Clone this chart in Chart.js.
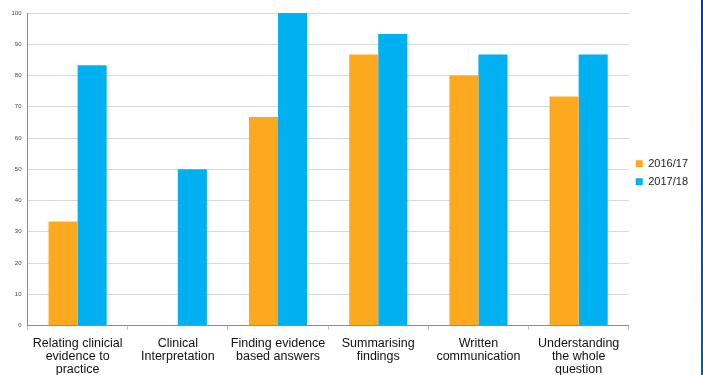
<!DOCTYPE html>
<html>
<head>
<meta charset="utf-8">
<script src="https://cdn.jsdelivr.net/npm/chart.js@4"></script>
<style>
  html, body { margin: 0; padding: 0; background: #fff; }
  #wrap { position: relative; width: 703px; height: 375px; overflow: hidden; }
  #edge { position: absolute; left: 701px; top: 0; width: 2px; height: 375px;
          background: linear-gradient(#0a2fd6, #0b5fa0); }
</style>
</head>
<body>
<div id="wrap">
  <canvas id="c" width="703" height="375"></canvas>
  <div id="edge"></div>
</div>
<script>
const categories = [
  ["Relating clinicial", "evidence to", "practice"],
  ["Clinical", "Interpretation"],
  ["Finding evidence", "based answers"],
  ["Summarising", "findings"],
  ["Written", "communication"],
  ["Understanding", "the whole", "question"]
];
const year2016 = [33.3, 0, 66.7, 86.7, 80, 73.3];
const year2017 = [83.3, 50, 100, 93.3, 86.7, 86.7];
const seriesNames = ["2016/17", "2017/18"];

new Chart(document.getElementById("c"), {
  type: "bar",
  data: {
    labels: categories,
    datasets: [
      { label: seriesNames[0], data: year2016, backgroundColor: "#fda91f", borderWidth: 0 },
      { label: seriesNames[1], data: year2017, backgroundColor: "#00b0f0", borderWidth: 0 }
    ]
  },
  options: {
    responsive: false,
    animation: false,
    events: [],
    datasets: { bar: { categoryPercentage: 0.58, barPercentage: 1.0 } },
    layout: { padding: { top: 13, left: 5.5, right: 5, bottom: 0 } },
    plugins: {
      tooltip: { enabled: false },
      legend: {
        position: "right",
        align: "center",
        fullSize: false,
        title: { display: true, text: " ", padding: 0, font: { size: 6 } },
        labels: {
          boxWidth: 7, boxHeight: 7, padding: 7,
          color: "#222",
          font: { family: "'Liberation Sans', Arial, sans-serif", size: 11 }
        }
      }
    },
    scales: {
      x: {
        // keep the category axis band a fixed height below the plot
        afterFit(scale) { scale.height = 49.5; },
        grid: { drawOnChartArea: false, drawTicks: true, tickLength: 4, color: "#bfbfbf" },
        border: { color: "#8c8c8c" },
        ticks: {
          color: "#111",
          padding: 7.5,
          maxRotation: 0,
          autoSkip: false,
          font: { family: "'Liberation Sans', Arial, sans-serif", size: 12.5, lineHeight: 1.04 }
        }
      },
      y: {
        min: 0, max: 100,
        grid: { color: "#d9d9d9", drawTicks: false },
        border: { color: "#8c8c8c" },
        ticks: {
          stepSize: 10,
          padding: 6,
          color: "#444",
          font: { family: "'Liberation Sans', Arial, sans-serif", size: 6 }
        }
      }
    }
  }
});
</script>
</body>
</html>
